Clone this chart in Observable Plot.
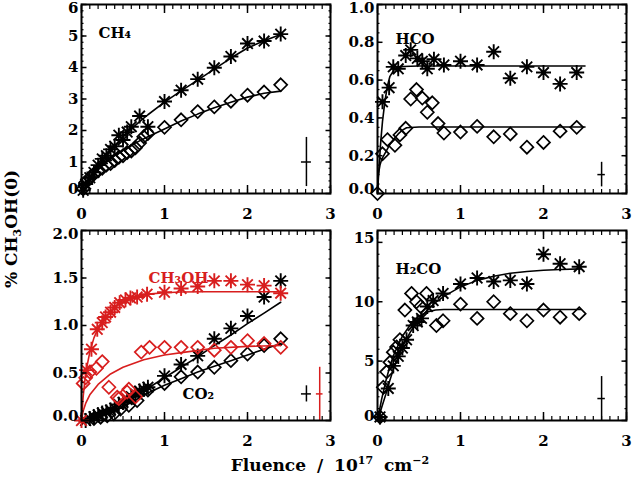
<!DOCTYPE html>
<html>
<head>
<meta charset="utf-8">
<script src="https://cdn.jsdelivr.net/npm/d3@7"></script>
<script src="https://cdn.jsdelivr.net/npm/@observablehq/plot@0.6"></script>
<style>
  html, body { margin: 0; padding: 0; background: #fff; }
  #chart { position: relative; width: 632px; height: 477px; overflow: hidden;
           font-family: "DejaVu Serif", serif; font-weight: bold; color: #000; }
  #chart svg { position: absolute; }
  .ytitle { position: absolute; left: 11px; top: 229px; font-size: 17px; white-space: nowrap;
            transform: translate(-50%, -50%) rotate(-90deg); }
  .xtitle { position: absolute; left: 330px; top: 465px; font-size: 17px; white-space: nowrap;
            word-spacing: 5px; transform: translate(-50%, -50%); }
  .ytitle sub, .xtitle sup { font-size: 11px; line-height: 0; }
</style>
</head>
<body>
<div id="chart">
  <div class="ytitle">% CH<sub>3</sub>OH(0)</div>
  <div class="xtitle">Fluence / 10<sup>17</sup> cm<sup>−2</sup></div>
</div>
<script>
// ---- data (fluence in 1e17 cm^-2, % of initial CH3OH) ----

// CH4
const ch4StarX = [0.02, 0.05, 0.1, 0.15, 0.2, 0.25, 0.3, 0.35, 0.4, 0.45, 0.5, 0.55, 0.6, 0.7, 0.8, 1.0, 1.2, 1.4, 1.6, 1.8, 2.0, 2.2, 2.4];
const ch4StarY = [0.1, 0.3, 0.5, 0.67, 0.9, 1.1, 1.2, 1.4, 1.5, 1.85, 1.7, 1.95, 2.12, 2.46, 2.12, 2.92, 3.28, 3.63, 3.99, 4.35, 4.76, 4.84, 5.06];
const ch4DiaX = [0.02, 0.05, 0.1, 0.15, 0.2, 0.25, 0.3, 0.35, 0.4, 0.45, 0.5, 0.55, 0.6, 0.65, 0.7, 0.75, 0.8, 1.0, 1.2, 1.4, 1.6, 1.8, 2.0, 2.2, 2.4];
const ch4DiaY = [0.15, 0.35, 0.5, 0.62, 0.72, 0.8, 0.9, 0.95, 1.05, 1.15, 1.2, 1.3, 1.35, 1.45, 1.6, 1.8, 1.9, 2.1, 2.34, 2.6, 2.75, 2.93, 3.12, 3.22, 3.45];
const ch4FitX = [0, 0.1, 0.2, 0.3, 0.4, 0.5, 0.6, 0.7, 0.8, 1.0, 1.2, 1.4, 1.6, 1.8, 2.0, 2.2, 2.4];
const ch4StarFit = [0, 0.48, 0.88, 1.22, 1.52, 1.8, 2.05, 2.28, 2.5, 2.9, 3.26, 3.6, 3.95, 4.3, 4.62, 4.85, 5.05];
const ch4DiaFit = [0, 0.42, 0.75, 1.0, 1.2, 1.38, 1.53, 1.67, 1.8, 2.05, 2.3, 2.52, 2.72, 2.9, 3.06, 3.18, 3.25];

// HCO
const hcoStarX = [0.06, 0.14, 0.19, 0.25, 0.34, 0.4, 0.48, 0.54, 0.6, 0.68, 0.8, 1.0, 1.2, 1.4, 1.6, 1.8, 2.0, 2.2, 2.4];
const hcoStarY = [0.485, 0.56, 0.67, 0.66, 0.73, 0.76, 0.715, 0.7, 0.66, 0.71, 0.68, 0.7, 0.68, 0.75, 0.61, 0.67, 0.64, 0.58, 0.64];
const hcoDiaX = [0.0, 0.06, 0.12, 0.21, 0.27, 0.34, 0.4, 0.47, 0.54, 0.6, 0.66, 0.73, 0.8, 1.0, 1.2, 1.4, 1.6, 1.8, 2.0, 2.2, 2.4];
const hcoDiaY = [0.0, 0.21, 0.285, 0.255, 0.31, 0.345, 0.5, 0.55, 0.505, 0.43, 0.48, 0.37, 0.32, 0.325, 0.355, 0.3, 0.315, 0.245, 0.27, 0.33, 0.35];
const hcoStarFitX = [0, 0.02, 0.04, 0.06, 0.09, 0.12, 0.15, 0.2, 0.3, 0.5, 1.0, 2.5];
const hcoStarFit = [0, 0.15, 0.28, 0.38, 0.49, 0.57, 0.62, 0.655, 0.672, 0.675, 0.675, 0.675];
const hcoDiaFitX = [0, 0.01, 0.03, 0.05, 0.1, 0.15, 0.2, 0.25, 0.3, 0.35, 0.5, 1.0, 2.5];
const hcoDiaFit = [0, 0.1, 0.15, 0.18, 0.22, 0.26, 0.29, 0.315, 0.335, 0.348, 0.352, 0.352, 0.352];

// CH3OH (red) and CO2 (black)
const mthStarX = [0.0, 0.06, 0.12, 0.19, 0.25, 0.29, 0.35, 0.4, 0.46, 0.53, 0.59, 0.67, 0.79, 1.0, 1.2, 1.4, 1.6, 1.8, 2.0, 2.2, 2.4];
const mthStarY = [0.0, 0.53, 0.75, 0.96, 1.03, 1.09, 1.14, 1.19, 1.24, 1.27, 1.29, 1.3, 1.33, 1.35, 1.39, 1.41, 1.47, 1.47, 1.43, 1.42, 1.34];
const mthDiaX = [0.02, 0.05, 0.1, 0.18, 0.25, 0.33, 0.43, 0.45, 0.55, 0.57, 0.65, 0.72, 0.82, 1.0, 1.2, 1.4, 1.6, 1.8, 2.0, 2.2, 2.4];
const mthDiaY = [0.39, 0.45, 0.51, 0.55, 0.62, 0.35, 0.245, 0.23, 0.3, 0.33, 0.25, 0.72, 0.77, 0.77, 0.77, 0.77, 0.74, 0.77, 0.84, 0.81, 0.77];
const mthStarFitX = [0, 0.02, 0.05, 0.1, 0.15, 0.2, 0.3, 0.4, 0.5, 0.6, 0.8, 1.0, 1.2, 1.5, 2.0, 2.4];
const mthStarFit = [0, 0.25, 0.5, 0.72, 0.87, 0.97, 1.1, 1.19, 1.25, 1.29, 1.33, 1.345, 1.352, 1.355, 1.355, 1.355];
const mthDiaFitX = [0, 0.02, 0.05, 0.1, 0.2, 0.35, 0.5, 0.75, 1.0, 1.25, 1.6, 2.0, 2.4];
const mthDiaFit = [0, 0.1, 0.18, 0.27, 0.38, 0.49, 0.56, 0.64, 0.69, 0.72, 0.76, 0.78, 0.79];
const co2StarX = [0.05, 0.1, 0.15, 0.2, 0.25, 0.3, 0.35, 0.4, 0.45, 0.5, 0.55, 0.6, 0.65, 0.7, 0.75, 0.8, 1.0, 1.2, 1.4, 1.6, 1.8, 2.0, 2.2, 2.4];
const co2StarY = [0.0, 0.02, 0.04, 0.06, 0.08, 0.09, 0.11, 0.13, 0.17, 0.19, 0.22, 0.25, 0.28, 0.31, 0.33, 0.35, 0.47, 0.59, 0.68, 0.86, 0.97, 1.1, 1.3, 1.47];
const co2DiaX = [0.15, 0.23, 0.31, 0.39, 0.47, 0.57, 0.67, 0.8, 1.0, 1.2, 1.4, 1.6, 1.8, 2.0, 2.2, 2.4];
const co2DiaY = [0.02, 0.035, 0.05, 0.07, 0.12, 0.16, 0.21, 0.32, 0.39, 0.46, 0.51, 0.56, 0.63, 0.7, 0.79, 0.86];
const co2FitX = [0, 0.2, 0.4, 0.6, 0.8, 1.0, 1.2, 1.4, 1.6, 1.8, 2.0, 2.2, 2.4];
const co2StarFit = [0, 0.05, 0.13, 0.23, 0.34, 0.45, 0.56, 0.67, 0.79, 0.9, 1.02, 1.13, 1.245];
const co2DiaFit = [0, 0.03, 0.1, 0.19, 0.29, 0.37, 0.44, 0.51, 0.57, 0.63, 0.69, 0.75, 0.81];

// H2CO
const h2coStarX = [0.03, 0.13, 0.19, 0.25, 0.3, 0.35, 0.43, 0.48, 0.53, 0.6, 0.67, 0.79, 1.0, 1.2, 1.4, 1.6, 1.8, 2.0, 2.2, 2.43];
const h2coStarY = [0.3, 2.7, 4.6, 5.4, 6.1, 6.8, 8.0, 8.3, 8.6, 9.6, 10.1, 10.7, 11.5, 12.0, 11.7, 11.8, 11.5, 14.0, 13.2, 12.95];
const h2coDiaX = [0.03, 0.07, 0.11, 0.15, 0.19, 0.23, 0.27, 0.33, 0.41, 0.47, 0.52, 0.59, 0.71, 0.79, 1.0, 1.2, 1.4, 1.6, 1.8, 2.0, 2.2, 2.43];
const h2coDiaY = [0.3, 2.8, 4.1, 4.9, 5.75, 6.2, 6.8, 9.3, 10.7, 10.0, 9.6, 10.7, 8.0, 8.4, 9.8, 8.6, 10.0, 9.0, 8.4, 9.3, 8.7, 9.0];
const h2coStarFitX = [0, 0.05, 0.1, 0.15, 0.2, 0.3, 0.4, 0.5, 0.6, 0.7, 0.8, 1.0, 1.2, 1.4, 1.6, 1.8, 2.0, 2.2, 2.45];
const h2coStarFit = [0, 1.1, 2.2, 3.4, 4.5, 6.2, 7.5, 8.5, 9.3, 9.95, 10.45, 11.25, 11.8, 12.15, 12.4, 12.55, 12.65, 12.72, 12.77];
const h2coDiaFitX = [0, 0.05, 0.1, 0.15, 0.2, 0.3, 0.4, 0.5, 0.6, 0.7, 0.8, 1.0, 1.5, 2.0, 2.45];
const h2coDiaFit = [0, 1.8, 3.3, 4.6, 5.6, 7.1, 8.1, 8.8, 9.15, 9.3, 9.35, 9.35, 9.35, 9.35, 9.35];

// error crosses: x, y, half-width in x, half-height in y
const ch4Err = [{x: 2.71, y: 1.0, dx: 0.06, dy: 0.78}];
const hcoErr = [{x: 2.7, y: 0.1, dx: 0.045, dy: 0.065}];
const co2Err = [{x: 2.71, y: 0.28, dx: 0.06, dy: 0.085}];
const mthErr = [{x: 2.87, y: 0.28, dx: 0.04, dy: 0.28}];
const h2coErr = [{x: 2.7, y: 1.85, dx: 0.045, dy: 1.85}];

const xMajor = [0, 1, 2, 3];
const xMinor = d3.range(0, 3.001, 0.1);

const RED = "#d81e1e";

// ---- IDL-like plot symbols ----
const asterisk = {
  draw(ctx, size) {
    const r = Math.sqrt(size / Math.PI), d = r * Math.SQRT1_2;
    ctx.moveTo(0, -r); ctx.lineTo(0, r);
    ctx.moveTo(-r, 0); ctx.lineTo(r, 0);
    ctx.moveTo(-d, -d); ctx.lineTo(d, d);
    ctx.moveTo(-d, d); ctx.lineTo(d, -d);
  }
};
const diamond = {
  draw(ctx, size) {
    const r = Math.sqrt(size / Math.PI);
    ctx.moveTo(0, -r); ctx.lineTo(r, 0); ctx.lineTo(0, r); ctx.lineTo(-r, 0); ctx.closePath();
  }
};

const pts = (xs, ys) => xs.map((x, i) => ({x, y: ys[i]}));

const stars = (xs, ys, color = "black") =>
  Plot.dot(pts(xs, ys), {x: "x", y: "y", symbol: asterisk, r: 7.5, stroke: color, strokeWidth: 1.9, fill: "none"});
const diamonds = (xs, ys, color = "black") =>
  Plot.dot(pts(xs, ys), {x: "x", y: "y", symbol: diamond, r: 6.5, stroke: color, strokeWidth: 1.7, fill: "none"});
const fit = (xs, ys, color = "black") =>
  Plot.line(pts(xs, ys), {x: "x", y: "y", stroke: color, strokeWidth: 1.6});
const cross = (data, color = "black") => [
  Plot.ruleX(data, {x: "x", y1: d => d.y - d.dy, y2: d => d.y + d.dy, stroke: color, strokeWidth: 1.5}),
  Plot.ruleY(data, {y: "y", x1: d => d.x - d.dx, x2: d => d.x + d.dx, stroke: color, strokeWidth: 1.5})
];
const label = (txt, opts) =>
  Plot.text([txt], {text: d => d, textAnchor: "start", fontSize: 15, fontWeight: "bold", ...opts});

// ---- panel builder ----
const FW = 249, ML = 45, MR = 8, MT = 6, MB = 30;

function panel({left, top, h, yDomain, yMajor, yMinor, yFormat, marks}) {
  const yInner = yMajor.slice(1, -1);
  const yEnds = [yMajor[0], yMajor[yMajor.length - 1]];
  const endShift = v => v === yDomain[1] ? 4 : -4; // IDL keeps end labels inside the box
  const chart = Plot.plot({
    width: ML + FW + MR,
    height: MT + h + MB,
    marginLeft: ML, marginRight: MR, marginTop: MT, marginBottom: MB,
    style: {background: "transparent", overflow: "visible", fontFamily: "DejaVu Serif, serif",
            fontSize: "15px", fontWeight: "bold", color: "black"},
    x: {domain: [0, 3]},
    y: {domain: yDomain},
    marks: [
      ...marks,
      Plot.axisX(xMinor, {anchor: "bottom", tickSize: -4, fill: "none", strokeWidth: 1.2}),
      Plot.axisX(xMinor, {anchor: "top", tickSize: -4, fill: "none", strokeWidth: 1.2}),
      Plot.axisX(xMajor, {anchor: "bottom", tickSize: -8, fill: "none", strokeWidth: 1.5}),
      Plot.axisX(xMajor, {anchor: "top", tickSize: -8, fill: "none", strokeWidth: 1.5}),
      Plot.axisX(xMajor, {anchor: "bottom", tickSize: 0, tickPadding: 15, label: null, tickFormat: d => d}),
      Plot.axisY(yMinor, {anchor: "left", tickSize: -2.5, fill: "none", strokeWidth: 1.2}),
      Plot.axisY(yMinor, {anchor: "right", tickSize: -2.5, fill: "none", strokeWidth: 1.2}),
      Plot.axisY(yMajor, {anchor: "left", tickSize: -5.5, fill: "none", strokeWidth: 1.5}),
      Plot.axisY(yMajor, {anchor: "right", tickSize: -5.5, fill: "none", strokeWidth: 1.5}),
      Plot.axisY(yInner, {anchor: "left", tickSize: 0, tickPadding: 3, label: null, tickFormat: yFormat}),
      ...yEnds.map(v => Plot.axisY([v], {anchor: "left", tickSize: 0, tickPadding: 3, label: null,
                                         tickFormat: yFormat, dy: endShift(v)})),
      Plot.frame({strokeWidth: 2})
    ]
  });
  chart.style.left = (left - ML) + "px";
  chart.style.top = (top - MT) + "px";
  return chart;
}

const root = document.getElementById("chart");
const f1 = d3.format(".1f");

root.appendChild(panel({
  left: 80.7, top: 4, h: 189,
  yDomain: [0, 6], yMajor: d3.range(0, 7, 1), yMinor: d3.range(0, 6.001, 0.2), yFormat: d => d,
  marks: [
    fit(ch4FitX, ch4StarFit), fit(ch4FitX, ch4DiaFit),
    stars(ch4StarX, ch4StarY), diamonds(ch4DiaX, ch4DiaY),
    ...cross(ch4Err),
    label("CH₄", {frameAnchor: "top-left", dx: 17, dy: 23})
  ]
}));

root.appendChild(panel({
  left: 376.7, top: 4, h: 189,
  yDomain: [0, 1], yMajor: d3.range(0, 1.001, 0.2), yMinor: d3.range(0, 1.001, 0.05), yFormat: f1,
  marks: [
    fit(hcoStarFitX, hcoStarFit), fit(hcoDiaFitX, hcoDiaFit),
    stars(hcoStarX, hcoStarY), diamonds(hcoDiaX, hcoDiaY),
    ...cross(hcoErr),
    label("HCO", {frameAnchor: "top-left", dx: 18, dy: 29})
  ]
}));

root.appendChild(panel({
  left: 80.7, top: 230, h: 190,
  yDomain: [0, 2], yMajor: d3.range(0, 2.001, 0.5), yMinor: d3.range(0, 2.001, 0.1), yFormat: f1,
  marks: [
    fit(co2FitX, co2StarFit), fit(co2FitX, co2DiaFit),
    stars(co2StarX, co2StarY), diamonds(co2DiaX, co2DiaY),
    fit(mthStarFitX, mthStarFit, RED), fit(mthDiaFitX, mthDiaFit, RED),
    stars(mthStarX, mthStarY, RED), diamonds(mthDiaX, mthDiaY, RED),
    ...cross(co2Err), ...cross(mthErr, RED),
    label("CH₃OH", {frameAnchor: "top-left", dx: 67, dy: 42, fill: RED}),
    label("CO₂", {frameAnchor: "bottom-left", dx: 101, dy: -22})
  ]
}));

root.appendChild(panel({
  left: 376.7, top: 230, h: 190,
  yDomain: [0, 16], yMajor: [0, 5, 10, 15], yMinor: d3.range(0, 16.001, 1), yFormat: d => d,
  marks: [
    fit(h2coStarFitX, h2coStarFit), fit(h2coDiaFitX, h2coDiaFit),
    stars(h2coStarX, h2coStarY), diamonds(h2coDiaX, h2coDiaY),
    ...cross(h2coErr),
    label("H₂CO", {frameAnchor: "top-left", dx: 18, dy: 33})
  ]
}));
</script>
</body>
</html>
